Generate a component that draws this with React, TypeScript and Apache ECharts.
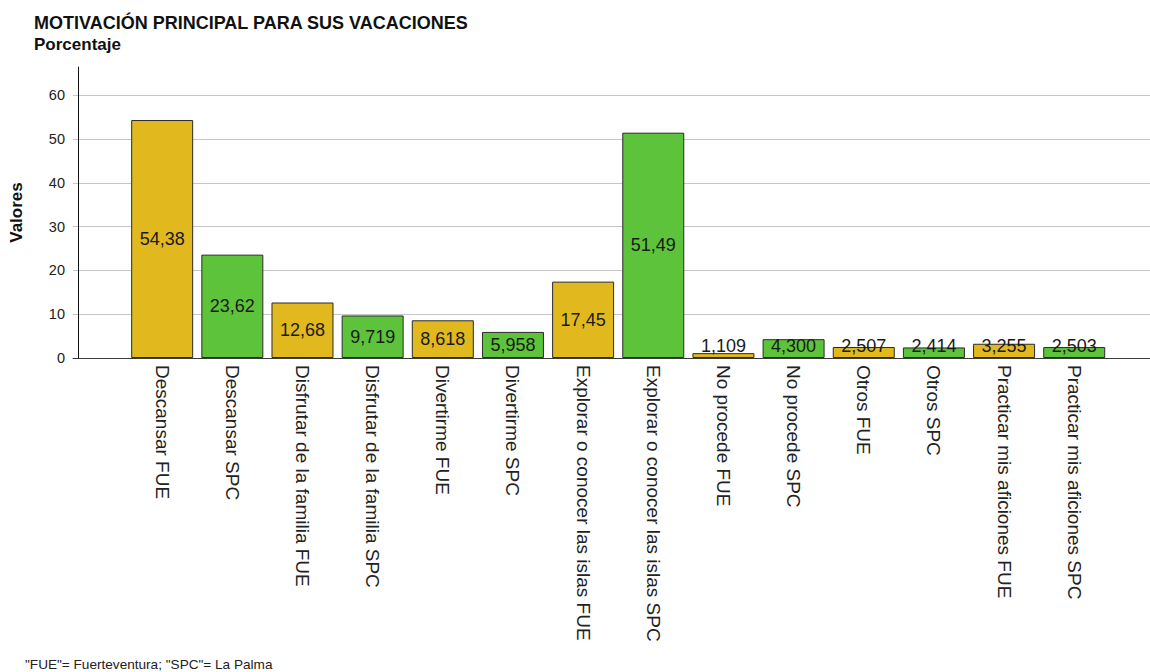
import React, { useEffect, useRef } from "react";
import * as echarts from "echarts";

const titleText = "MOTIVACIÓN PRINCIPAL PARA SUS VACACIONES";
const subtitleText = "Porcentaje";
const footnoteText = '"FUE"= Fuerteventura; "SPC"= La Palma';
const yAxisTitle = "Valores";

const categories = [
  "Descansar FUE",
  "Descansar SPC",
  "Disfrutar de la familia FUE",
  "Disfrutar de la familia SPC",
  "Divertirme FUE",
  "Divertirme SPC",
  "Explorar o conocer las islas FUE",
  "Explorar o conocer las islas SPC",
  "No procede FUE",
  "No procede SPC",
  "Otros FUE",
  "Otros SPC",
  "Practicar mis aficiones FUE",
  "Practicar mis aficiones SPC",
];

const values = [54.38, 23.62, 12.68, 9.719, 8.618, 5.958, 17.45, 51.49, 1.109, 4.3, 2.507, 2.414, 3.255, 2.503];

const yTicks = [0, 10, 20, 30, 40, 50, 60];

const COLOR_FUE = "#e1b91f";
const COLOR_SPC = "#5dc33a";
const SANS = "'Liberation Sans', Arial, sans-serif";

export default function App() {
  const ref = useRef<HTMLDivElement>(null);

  useEffect(() => {
    if (!ref.current) return;
    const chart = echarts.init(ref.current, null, { renderer: "svg" });
    const axisTop = 66.5;
    const data = values.map((v, i) => {
      const small = v < 5;
      return {
        value: v,
        itemStyle: {
          color: categories[i].endsWith("FUE") ? COLOR_FUE : COLOR_SPC,
        },
        label: small
          ? { position: "insideBottom", distance: 3 }
          : { position: "inside" },
      };
    });

    chart.setOption({
      animation: false,
      backgroundColor: "#ffffff",
      title: [
        {
          text: titleText,
          left: 29,
          top: 9,
          textStyle: { fontFamily: SANS, fontSize: 18, fontWeight: "bold", color: "#111" },
        },
        {
          text: subtitleText,
          left: 29,
          top: 31,
          textStyle: { fontFamily: SANS, fontSize: 17, fontWeight: "bold", color: "#111" },
        },
        {
          text: footnoteText,
          left: 20,
          top: 652,
          textStyle: { fontFamily: SANS, fontSize: 13.6, fontWeight: "normal", color: "#222" },
        },
      ],
      grid: [
        // gridlines and tick labels (0..60)
        { left: 73, right: 0, top: 95.4, bottom: 314, containLabel: false },
        // bars
        { left: 127.1, right: 40.7, top: 67, bottom: 314, containLabel: false },
        // y axis line
        { left: 73, right: 0, top: 67, bottom: 314, containLabel: false },
      ],
      xAxis: [
        {
          gridIndex: 0,
          type: "value",
          min: 0,
          max: 1,
          axisLine: { show: true, lineStyle: { color: "#3a3a3a", width: 1 } },
          axisTick: { show: false },
          axisLabel: { show: false },
          splitLine: { show: false },
        },
        {
          gridIndex: 1,
          type: "category",
          data: categories,
          axisLine: { show: false },
          axisTick: { show: false },
          axisLabel: {
            interval: 0,
            rotate: -90,
            margin: 7,
            fontFamily: SANS,
            fontSize: 19,
            color: "#222",
          },
          splitLine: { show: false },
        },
        {
          gridIndex: 2,
          type: "value",
          min: 0,
          max: 1,
          show: false,
        },
      ],
      yAxis: [
        {
          gridIndex: 0,
          type: "value",
          min: yTicks[0],
          max: yTicks[yTicks.length - 1],
          interval: yTicks[1] - yTicks[0],
          axisLine: { show: false },
          axisTick: { show: false },
          axisLabel: {
            margin: 8,
            fontFamily: SANS,
            fontSize: 14.5,
            color: "#222",
          },
          splitLine: { show: true, lineStyle: { color: "#c6c6c6", width: 1 } },
        },
        {
          gridIndex: 1,
          type: "value",
          min: 0,
          max: axisTop,
          show: false,
        },
        {
          gridIndex: 2,
          type: "value",
          min: 0,
          max: axisTop,
          name: yAxisTitle,
          nameLocation: "middle",
          nameRotate: 90,
          nameGap: 53,
          nameTextStyle: { fontFamily: SANS, fontSize: 17, fontWeight: "bold", color: "#111" },
          axisLine: { show: true, lineStyle: { color: "#111", width: 1 } },
          axisTick: { show: false },
          axisLabel: { show: false },
          splitLine: { show: false },
        },
      ],
      series: [
        {
          type: "bar",
          xAxisIndex: 1,
          yAxisIndex: 1,
          data,
          barWidth: 62,
          itemStyle: { borderColor: "#2a2a2a", borderWidth: 1 },
          label: {
            show: true,
            fontFamily: SANS,
            fontSize: 18,
            color: "#1a1a1a",
            formatter: (p: any) => Number(p.value).toPrecision(4).replace(".", ","),
          },
        },
      ],
    });
    return () => chart.dispose();
  }, []);

  return (
    <div
      ref={ref}
      style={{ position: "fixed", left: 0, top: 0, width: 1150, height: 672, background: "#fff" }}
    />
  );
}
